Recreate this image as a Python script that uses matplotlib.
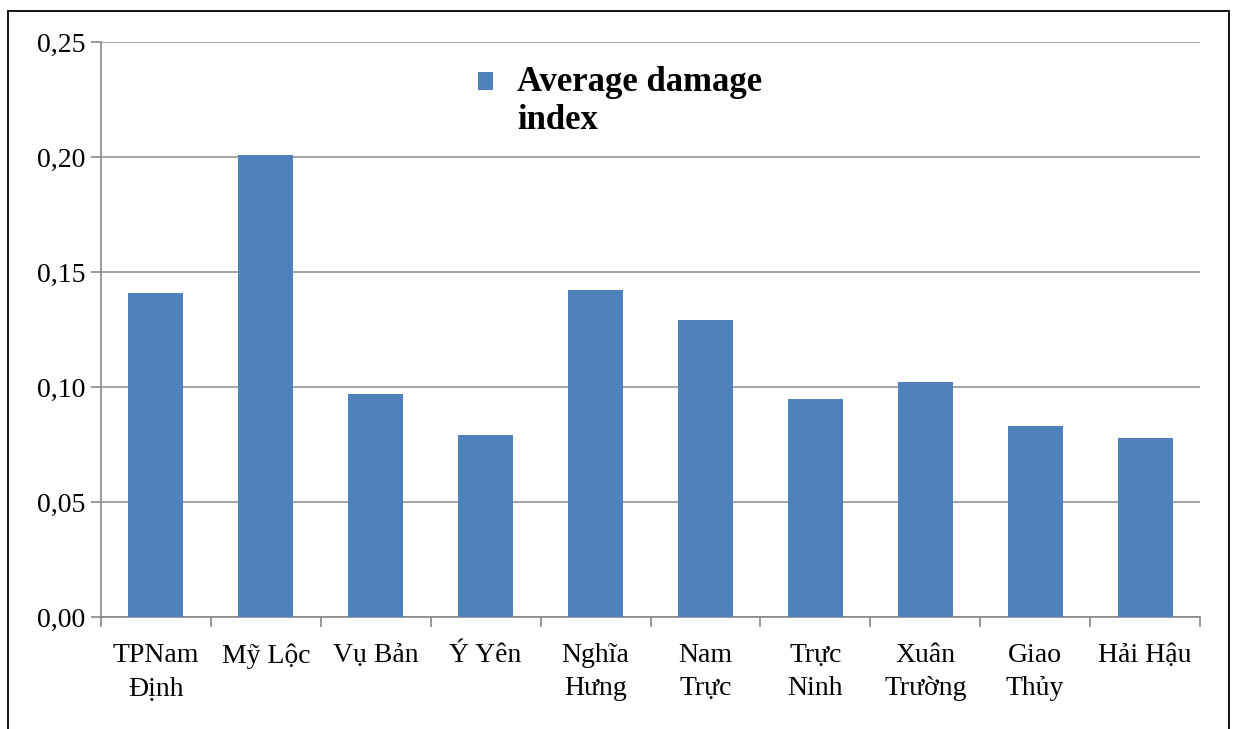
import numpy as np
import matplotlib.pyplot as plt
from matplotlib.patches import Rectangle
from matplotlib.ticker import FuncFormatter

# districts and their average damage index
districts = ["TPNam\nĐịnh", "Mỹ Lộc", "Vụ Bản", "Ý Yên", "Nghĩa\nHưng",
             "Nam\nTrực", "Trực\nNinh", "Xuân\nTrường", "Giao\nThủy", "Hải Hậu"]
damage = [0.141, 0.201, 0.097, 0.079, 0.142, 0.129, 0.095, 0.102, 0.083, 0.078]
yticks = [0.00, 0.05, 0.10, 0.15, 0.20, 0.25]
series_name = "Average damage\nindex"

plt.rcParams['font.family'] = ['Liberation Serif', 'DejaVu Serif']

fig = plt.figure(figsize=(12.38, 7.29), dpi=100)
ax = fig.add_axes([0.0816, 0.1536, 0.8877, 0.7888])

x = np.arange(len(districts))
bars = ax.bar(x, damage, width=0.5, color="#4F81BD", zorder=3, label=series_name)

ax.set_xlim(-0.5, len(districts) - 0.5)
ax.set_ylim(0, 0.25)
ax.set_yticks(yticks)
ax.yaxis.set_major_formatter(FuncFormatter(lambda v, p: "{:.2f}".format(v).replace(".", ",")))
ax.grid(axis="y", color="#A6A6A6", linewidth=1.5, zorder=0)

ax.set_xticks(x)
ax.set_xticklabels(districts, linespacing=1.4)
ax.set_xticks(np.arange(len(districts) + 1) - 0.5, minor=True)
ax.tick_params(axis="x", which="major", length=0, pad=19, labelsize=20)
ax.tick_params(axis="x", which="minor", length=7, color="#888888", width=1.2)
ax.tick_params(axis="y", length=7, color="#888888", width=1.2, pad=4, labelsize=20)

for s in ["top", "right"]:
    ax.spines[s].set_visible(False)
for s in ["left", "bottom"]:
    ax.spines[s].set_color("#888888")
    ax.spines[s].set_linewidth(1.2)

leg = ax.legend(loc="upper left", bbox_to_anchor=(0.343, 0.958), frameon=False,
                prop={"size": 25, "weight": "bold"}, handlelength=0.42,
                handleheight=0.42, handletextpad=0.7, borderpad=0,
                borderaxespad=0)
for t in leg.get_texts():
    t.set_linespacing(1.2)
# put the square next to the first line of the label
h = leg.legend_handles[0]
h.set_y(h.get_y() + 15)

# outer frame around the picture (open at the bottom)
fig.patches.append(Rectangle((0.0065, -0.05), 0.986, 1.035, transform=fig.transFigure,
                             fill=False, edgecolor="black", linewidth=1.3))

fig.savefig("out.png", dpi=100)
